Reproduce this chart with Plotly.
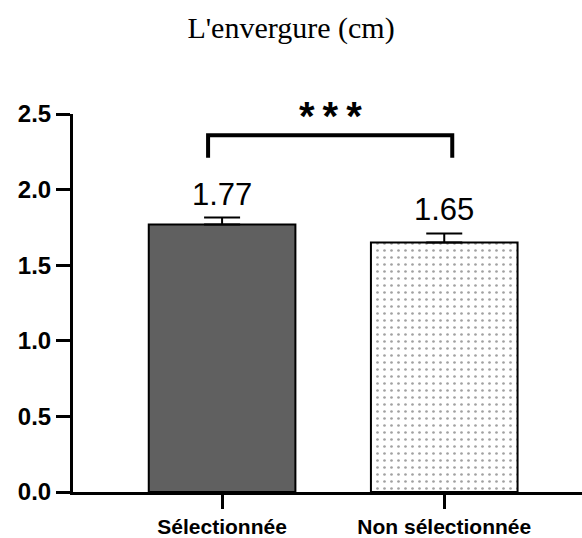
import plotly.graph_objects as go

# Data
categories = ["Sélectionnée", "Non sélectionnée"]
means = [1.77, 1.65]
errors = [0.045, 0.06]
y_ticks = [0.0, 0.5, 1.0, 1.5, 2.0, 2.5]
significance = "***"

fig = go.Figure()

fig.add_trace(go.Bar(
    x=[0, 1],
    y=means,
    width=0.66,
    marker=dict(
        color=["#606060", "white"],
        line=dict(color="black", width=2),
        pattern=dict(
            shape=["", "."],
            fgcolor="black",
            bgcolor="white",
            size=7,
            solidity=0.12,
        ),
    ),
    error_y=dict(type="data", array=errors, visible=True,
                 color="black", thickness=2, width=18, symmetric=False),
    showlegend=False,
))

# Value labels above the error bars
for i, (m, e) in enumerate(zip(means, errors)):
    fig.add_annotation(
        x=i, y=m + e, text=f"{m:.2f}", showarrow=False,
        yanchor="bottom", yshift=4,
        font=dict(family="Liberation Sans, Arial", size=31, color="black"),
    )

# Significance bracket
x0, x1 = -0.063, 1.036
y_top, y_bot = 2.36, 2.21
fig.add_shape(
    type="path",
    path=f"M {x0},{y_bot} L {x0},{y_top} L {x1},{y_top} L {x1},{y_bot}",
    line=dict(color="black", width=4),
    xref="x", yref="y",
)
fig.add_annotation(
    x=(x0 + x1) / 2, xref="x", y=1.0, yref="paper",
    text="<b>" + "\u2009".join(significance) + "</b>",
    showarrow=False, yanchor="middle", yshift=-2,
    font=dict(family="Liberation Sans, Arial", size=40, color="black"),
)

fig.update_layout(
    width=582, height=538,
    margin=dict(l=73, r=0, t=114, b=44),
    paper_bgcolor="white", plot_bgcolor="white",
    title=dict(
        text="L'envergure (cm)", x=0.5, xanchor="center",
        y=1 - 27 / 538, yanchor="middle",
        font=dict(family="Liberation Serif, Times New Roman", size=30, color="black"),
    ),
    bargap=0.3,
)

fig.update_xaxes(
    range=[-0.671, 1.62],
    tickvals=[0, 1], ticktext=[f"<b>{c}</b>" for c in categories],
    showline=True, linecolor="black", linewidth=3,
    ticks="outside", ticklen=14, tickwidth=3, tickcolor="black",
    showgrid=False, zeroline=False,
    tickfont=dict(family="Liberation Sans, Arial", size=21, color="black"),
)
fig.update_yaxes(
    range=[0, 2.5],
    tickvals=y_ticks, ticktext=[f"<b>{v:.1f}</b>" for v in y_ticks],
    showline=True, linecolor="black", linewidth=3,
    ticks="outside", ticklen=14, tickwidth=3, tickcolor="black",
    showgrid=False, zeroline=False,
    tickfont=dict(family="Liberation Sans, Arial", size=24, color="black"),
)

fig.write_html("out.html")
